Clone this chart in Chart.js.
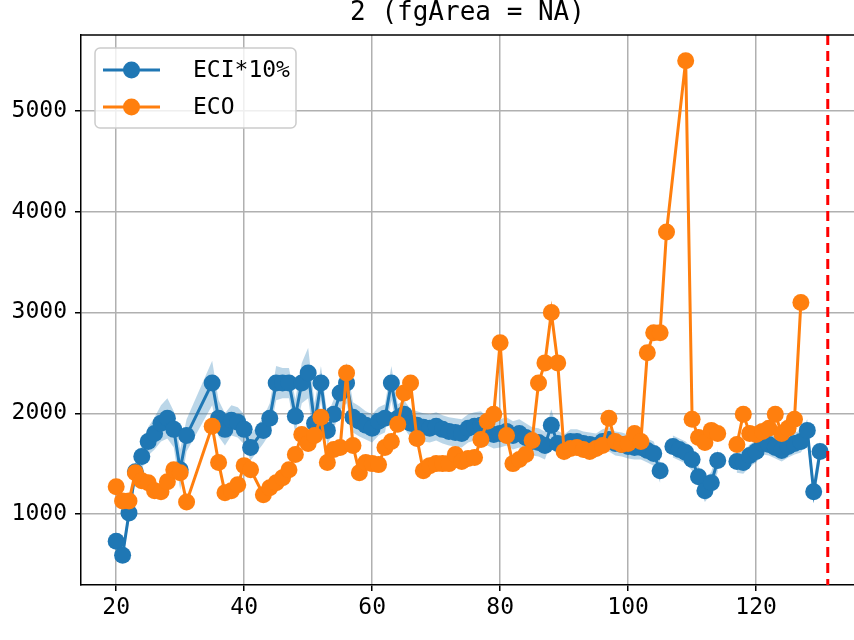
<!DOCTYPE html>
<html>
<head>
<meta charset="utf-8">
<script src="https://cdn.jsdelivr.net/npm/chart.js@4.4.1/dist/chart.umd.min.js"></script>
<style>
  html, body { margin: 0; padding: 0; background: #fff; }
  #wrap { width: 854px; height: 640px; }
</style>
</head>
<body>
<div id="wrap"><canvas id="grafico" width="854" height="640"></canvas></div>
<script>
const titulo = '2 (fgArea = NA)';
const etiquetaEci = 'ECI*10%';
const etiquetaEco = 'ECO';

// ECI*10% (null = hueco en la línea)
const eciX = [20,21,22,23,24,25,26,27,28,29,30,31,
  35,36,37,38,39,40,41,
  43,44,45,46,47,48,49,50,51,52,53,54,55,56,57,58,59,60,61,62,63,64,65,66,67,68,69,70,
  71,72,73,74,75,76,77,78,79,80,81,82,83,84,85,86,87,88,89,90,
  91,92,93,94,95,96,97,98,99,100,101,102,103,104,105,106,
  107,108,109,110,111,112,113,114,115,
  117,118,119,120,121,122,123,124,125,126,127,128,129,130];
const eciVals = [730,590,1010,1420,1570,1720,1800,1900,1950,1840,1440,1780,
  2300,1950,1840,1930,1910,1840,1660,
  1830,1950,2300,2300,2300,1970,2300,2400,1900,2300,1830,1990,2200,2300,1960,1920,1880,1850,1920,1950,2300,1950,1990,1900,1880,1860,1850,1870,
  1840,1820,1810,1800,1850,1870,1880,1820,1790,1800,1820,1780,1800,1760,1720,1710,1680,1880,1700,1660,
  1720,1720,1700,1690,1680,1720,1740,1700,1690,1670,1660,1660,1630,1600,1430,null,
  1670,1640,1610,1540,1370,1230,1310,1530,null,
  1520,1510,1580,1620,1700,1690,1660,1630,1670,1700,1720,1830,1220,1620];
// ancho de la banda sombreada alrededor de ECI
const eciBanda = [60,60,80,100,120,140,160,180,200,180,200,160,
  220,180,160,150,150,150,130,
  130,150,170,150,150,170,200,250,200,170,150,150,170,200,150,150,140,140,140,140,170,140,140,140,140,140,140,140,
  140,140,140,140,140,140,140,140,140,140,140,140,140,140,140,140,140,160,130,130,
  120,120,120,120,120,120,120,120,120,120,120,120,120,120,120,null,
  110,110,110,110,110,110,110,110,null,
  110,110,110,110,110,110,110,110,110,110,110,110,110,110];

// ECO
const ecoX = [20,21,22,23,24,25,26,27,28,29,30,31,
  35,36,37,38,39,40,41,
  43,44,45,46,47,48,49,50,51,52,53,54,55,56,57,58,59,60,61,62,63,64,65,66,67,68,69,70,
  71,72,73,74,75,76,77,78,79,80,81,82,83,84,85,86,87,88,89,90,
  91,92,93,94,95,96,97,98,99,100,101,102,103,104,105,106,
  109,110,111,112,113,114,115,
  117,118,119,120,121,122,123,124,125,126,127];
const ecoVals = [1270,1130,1130,1410,1330,1310,1230,1220,1320,1440,1410,1120,
  1870,1510,1210,1230,1290,1480,1440,
  1190,1260,1310,1360,1440,1590,1790,1700,1780,1960,1510,1640,1660,2400,1680,1410,1510,1500,1490,1660,1720,1890,2200,2300,1750,1430,1480,1500,
  1500,1500,1590,1520,1550,1560,1740,1920,1990,2700,1780,1500,1540,1590,1730,2300,2500,3000,2500,1620,
  1650,1660,1640,1620,1650,1680,1950,1720,1690,1700,1800,1720,2600,2800,2800,3800,
  5500,1940,1760,1710,1830,1800,null,
  1690,1990,1800,1790,1820,1850,1990,1800,1850,1940,3100];

const xTicks = [20, 40, 60, 80, 100, 120];
const yTicks = [1000, 2000, 3000, 4000, 5000];
const lineaRoja = 131.2;

const azul = '#1f77b4';
const naranja = '#ff7f0e';
const fuente = "'DejaVu Sans Mono', monospace";

function puntos(xs, ys) {
  return xs.map((x, i) => ({ x: x, y: ys[i] }));
}

// la banda se parte en tramos donde ECI tiene huecos; cada tramo es un polígono
function tramosBanda() {
  const tramos = [];
  let actual = [];
  eciX.forEach((x, i) => {
    if (eciVals[i] === null) {
      if (actual.length) tramos.push(actual);
      actual = [];
    } else {
      actual.push(i);
    }
  });
  if (actual.length) tramos.push(actual);
  return tramos.map(idx => {
    const arriba = idx.map(i => ({ x: eciX[i], y: eciVals[i] + eciBanda[i] }));
    const abajo = idx.slice().reverse().map(i => ({ x: eciX[i], y: eciVals[i] - eciBanda[i] }));
    return arriba.concat(abajo);
  });
}

const extras = {
  id: 'extras',
  afterDatasetsDraw(chart) {
    const ctx = chart.ctx;
    const a = chart.chartArea;
    const px = chart.scales.x.getPixelForValue(lineaRoja);
    ctx.save();
    ctx.strokeStyle = 'red';
    ctx.lineWidth = 3;
    ctx.setLineDash([10, 6]);
    ctx.beginPath();
    ctx.moveTo(px, a.top);
    ctx.lineTo(px, a.bottom);
    ctx.stroke();
    ctx.restore();
  },
  afterDraw(chart) {
    const ctx = chart.ctx;
    const a = chart.chartArea;
    ctx.save();
    ctx.strokeStyle = '#000';
    ctx.lineWidth = 1.5;
    ctx.beginPath();
    ctx.moveTo(a.left, a.top);
    ctx.lineTo(a.right, a.top);
    ctx.stroke();

    ctx.fillStyle = '#000';
    ctx.font = '26px ' + fuente;
    ctx.textAlign = 'center';
    ctx.textBaseline = 'middle';
    ctx.fillText(titulo, (a.left + a.right) / 2, 13);

    // leyenda
    const bx = 95, by = 48, bw = 201, bh = 80;
    ctx.fillStyle = 'rgba(255,255,255,0.8)';
    ctx.strokeStyle = '#cccccc';
    ctx.lineWidth = 1.5;
    ctx.beginPath();
    ctx.roundRect(bx, by, bw, bh, 5);
    ctx.fill();
    ctx.stroke();
    const filas = [[etiquetaEci, azul, 70], [etiquetaEco, naranja, 107]];
    filas.forEach(f => {
      ctx.strokeStyle = f[1];
      ctx.lineWidth = 3;
      ctx.beginPath();
      ctx.moveTo(103, f[2]);
      ctx.lineTo(160, f[2]);
      ctx.stroke();
      ctx.fillStyle = f[1];
      ctx.beginPath();
      ctx.arc(131.5, f[2], 8.5, 0, Math.PI * 2);
      ctx.fill();
      ctx.fillStyle = '#000';
      ctx.font = '23px ' + fuente;
      ctx.textAlign = 'left';
      ctx.fillText(f[0], 193, f[2] + 1);
    });
    ctx.restore();
  }
};

const datasets = [
  {
    label: etiquetaEco,
    data: puntos(ecoX, ecoVals),
    showLine: true,
    borderColor: naranja,
    backgroundColor: naranja,
    borderWidth: 3,
    pointRadius: 8.5,
    pointBorderWidth: 0,
    spanGaps: false,
    order: 1
  },
  {
    label: etiquetaEci,
    data: puntos(eciX, eciVals),
    showLine: true,
    borderColor: azul,
    backgroundColor: azul,
    borderWidth: 3,
    pointRadius: 8.5,
    pointBorderWidth: 0,
    spanGaps: false,
    order: 2
  }
];
tramosBanda().forEach((poly, k) => {
  datasets.push({
    label: 'banda-' + k,
    data: poly,
    showLine: true,
    borderWidth: 0,
    borderColor: 'rgba(0,0,0,0)',
    backgroundColor: 'rgba(31,119,180,0.3)',
    pointRadius: 0,
    fill: 'shape',
    order: 3
  });
});

const ctx = document.getElementById('grafico').getContext('2d');
new Chart(ctx, {
  type: 'scatter',
  data: { datasets: datasets },
  options: {
    responsive: false,
    animation: false,
    layout: { autoPadding: false, padding: { top: 35, right: 0, left: 0, bottom: 0 } },
    plugins: {
      legend: { display: false },
      title: { display: false },
      tooltip: { enabled: false }
    },
    scales: {
      x: {
        type: 'linear',
        min: 14.5,
        max: 135.3,
        afterBuildTicks: s => { s.ticks = xTicks.map(v => ({ value: v })); },
        afterFit: s => { s.height = 55; s.paddingRight = 0; s.paddingLeft = 0; },
        grid: { color: '#b0b0b0', lineWidth: 1.5, tickColor: '#000', tickLength: 6 },
        border: { display: true, color: '#000', width: 1.5 },
        ticks: { color: '#000', font: { family: fuente, size: 23 }, padding: 3, maxRotation: 0, callback: v => String(v) }
      },
      y: {
        type: 'linear',
        min: 295,
        max: 5755,
        afterBuildTicks: s => { s.ticks = yTicks.map(v => ({ value: v })); },
        afterFit: s => { s.width = 81; s.paddingTop = 0; s.paddingBottom = 0; },
        grid: { color: '#b0b0b0', lineWidth: 1.5, tickColor: '#000', tickLength: 6 },
        border: { display: true, color: '#000', width: 1.5 },
        ticks: { color: '#000', font: { family: fuente, size: 23 }, padding: 8, callback: v => String(v) }
      }
    }
  },
  plugins: [extras]
});
</script>
</body>
</html>
